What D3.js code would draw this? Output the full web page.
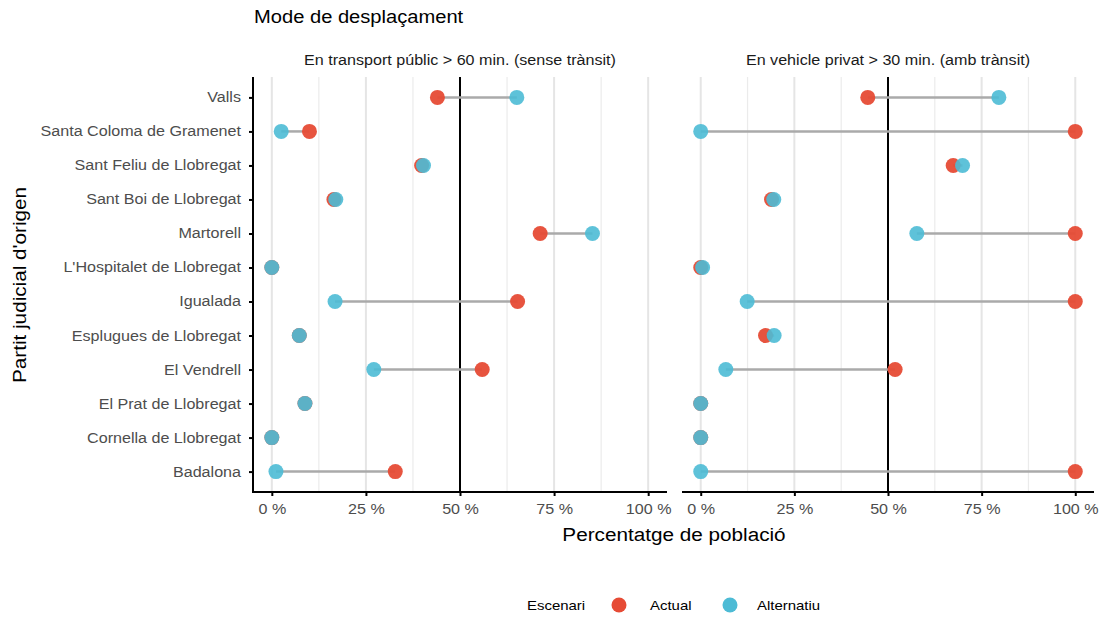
<!DOCTYPE html>
<html>
<head>
<meta charset="utf-8">
<script src="https://cdn.jsdelivr.net/npm/d3@7"></script>
<style>
  body { margin: 0; background: #fff; }
  svg text { font-family: "Liberation Sans", Arial, sans-serif; }
</style>
</head>
<body>
<svg id="chart" width="1104" height="619"></svg>
<script>
// categories, top to bottom
const partits = ["Valls", "Santa Coloma de Gramenet", "Sant Feliu de Llobregat", "Sant Boi de Llobregat",
  "Martorell", "L'Hospitalet de Llobregat", "Igualada", "Esplugues de Llobregat", "El Vendrell",
  "El Prat de Llobregat", "Cornella de Llobregat", "Badalona"];

const panells = ["En transport públic > 60 min. (sense trànsit)", "En vehicle privat > 30 min. (amb trànsit)"];
const escenaris = ["Actual", "Alternatiu"];

// transport public
const tpActual     = [0.44, 0.10, 0.398, 0.165, 0.713, 0.0, 0.653, 0.073, 0.559, 0.088, 0.0, 0.328];
const tpAlternatiu = [0.651, 0.025, 0.403, 0.170, 0.852, 0.0, 0.168, 0.073, 0.271, 0.088, 0.0, 0.011];
// vehicle privat
const vpActual     = [0.446, 1.0, 0.674, 0.189, 1.0, 0.0, 1.0, 0.173, 0.519, 0.0, 0.0, 1.0];
const vpAlternatiu = [0.796, 0.0, 0.699, 0.195, 0.577, 0.005, 0.124, 0.196, 0.067, 0.0, 0.0, 0.0];

const xTicks = [0, 0.25, 0.5, 0.75, 1];
const xMinor = [0.125, 0.375, 0.625, 0.875];

const colors = { Actual: "#E64B35", Alternatiu: "#4DBBD5" };

const svg = d3.select("#chart");
const fontFam = "Liberation Sans, Arial, sans-serif";

const panelData = [
  { title: panells[0], actual: tpActual, alt: tpAlternatiu, left: 253, right: 667, yAxis: true },
  { title: panells[1], actual: vpActual, alt: vpAlternatiu, left: 682, right: 1094, yAxis: false }
];

const plotTop = 77, plotBottom = 492;
const y = d3.scalePoint().domain(partits).range([plotTop, plotBottom]).padding(0.6);

panelData.forEach(p => {
  const w = p.right - p.left;
  const x = d3.scaleLinear().domain([-0.05, 1.05]).range([p.left, p.right]);
  const g = svg.append("g");

  // grid
  g.selectAll(".minor").data(xMinor).enter().append("line")
    .attr("x1", d => x(d)).attr("x2", d => x(d))
    .attr("y1", plotTop).attr("y2", plotBottom)
    .attr("stroke", "#ebebeb").attr("stroke-width", 1.2);
  g.selectAll(".major").data(xTicks).enter().append("line")
    .attr("x1", d => x(d)).attr("x2", d => x(d))
    .attr("y1", plotTop).attr("y2", plotBottom)
    .attr("stroke", "#e5e5e5").attr("stroke-width", 2);

  // vline at 50 %
  g.append("line")
    .attr("x1", x(0.5)).attr("x2", x(0.5))
    .attr("y1", plotTop).attr("y2", plotBottom)
    .attr("stroke", "#000").attr("stroke-width", 2);

  // strip label
  g.append("text")
    .attr("x", p.left + w / 2).attr("y", 65)
    .attr("text-anchor", "middle")
    .attr("font-size", 14).attr("fill", "#1a1a1a")
    .text(p.title);

  const rows = partits.map((name, i) => ({ name, a: p.actual[i], b: p.alt[i] }));

  // segments
  g.selectAll(".seg").data(rows).enter().append("line")
    .attr("x1", d => x(d.a)).attr("x2", d => x(d.b))
    .attr("y1", d => y(d.name)).attr("y2", d => y(d.name))
    .attr("stroke", "#aaaaaa").attr("stroke-width", 2.5);

  // points
  g.selectAll(".pa").data(rows).enter().append("circle")
    .attr("cx", d => x(d.a)).attr("cy", d => y(d.name)).attr("r", 7.5)
    .attr("fill", colors.Actual).attr("fill-opacity", 0.95);
  g.selectAll(".pb").data(rows).enter().append("circle")
    .attr("cx", d => x(d.b)).attr("cy", d => y(d.name)).attr("r", 7.5)
    .attr("fill", colors.Alternatiu).attr("fill-opacity", 0.9);

  // x axis
  const xAxis = d3.axisBottom(x).tickValues(xTicks)
    .tickFormat(d => Math.round(d * 100) + " %").tickSize(4).tickSizeOuter(0);
  const ax = g.append("g").attr("transform", `translate(0,${plotBottom})`).call(xAxis);
  ax.select(".domain").attr("stroke", "#000").attr("stroke-width", 2)
    .attr("d", `M${p.left},0H${p.right}`);
  ax.selectAll(".tick line").attr("stroke", "#000").attr("stroke-width", 2);
  ax.selectAll(".tick text").attr("font-size", 14).attr("fill", "#4d4d4d")
    .attr("dy", "1.05em").attr("font-family", fontFam);

  if (p.yAxis) {
    const yAxis = d3.axisLeft(y).tickSize(4).tickSizeOuter(0).tickPadding(8);
    const ay = g.append("g").attr("transform", `translate(${p.left},0)`).call(yAxis);
    ay.select(".domain").attr("stroke", "#000").attr("stroke-width", 2)
      .attr("d", `M0,${plotTop}V${plotBottom + 1}`);
    ay.selectAll(".tick line").attr("stroke", "#000").attr("stroke-width", 2);
    ay.selectAll(".tick text").attr("font-size", 14).attr("fill", "#4d4d4d")
      .attr("font-family", fontFam);
  }
});

// titles
svg.append("text").attr("x", 254).attr("y", 23)
  .attr("font-size", 17.5).attr("fill", "#000").text("Mode de desplaçament");

svg.append("text").attr("x", 674).attr("y", 541)
  .attr("text-anchor", "middle").attr("font-size", 18).attr("fill", "#000")
  .text("Percentatge de població");

svg.append("text").attr("transform", "translate(26,285) rotate(-90)")
  .attr("text-anchor", "middle").attr("font-size", 18).attr("fill", "#000")
  .text("Partit judicial d'origen");

// legend
const leg = svg.append("g");
leg.append("text").attr("x", 527).attr("y", 610).attr("font-size", 13).attr("fill", "#000").text("Escenari");
const legX = [619, 730];
const legTextX = [650, 757];
escenaris.forEach((e, i) => {
  leg.append("circle").attr("cx", legX[i]).attr("cy", 605).attr("r", 7.5).attr("fill", colors[e]);
  leg.append("text").attr("x", legTextX[i]).attr("y", 610).attr("font-size", 13).attr("fill", "#000").text(e);
});

// the reference text is a bit wider than Liberation Sans, stretch it
svg.selectAll("text").each(function() {
  const len = this.getComputedTextLength();
  this.setAttribute("textLength", len * 1.15);
  this.setAttribute("lengthAdjust", "spacingAndGlyphs");
});
</script>
</body>
</html>
